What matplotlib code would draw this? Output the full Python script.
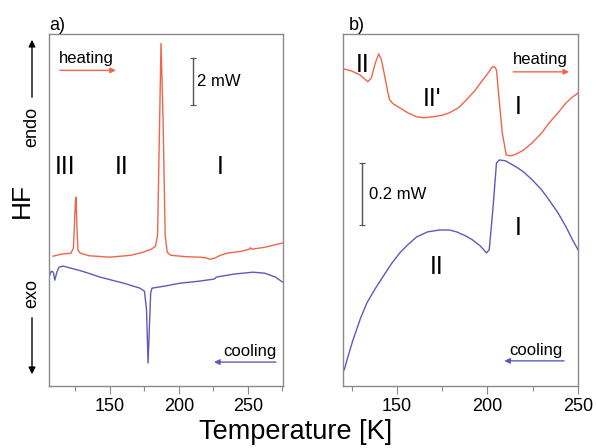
"""DSC heating/cooling traces, two temperature ranges."""

import matplotlib

matplotlib.use("Agg")
import matplotlib.pyplot as plt
from matplotlib.ticker import MultipleLocator

plt.rcParams["font.family"] = ["Liberation Sans", "DejaVu Sans"]

RED = "#f0654a"
BLUE = "#5a5cb8"
GRAY = "#8a8a8a"

# panel a) wide range, heat flow in mW (arbitrary offset)
a_heat_T = [108.7, 115, 121.7, 123.5, 125.0, 125.4, 126.0, 126.8, 128.5, 135, 150, 165,
            174, 180, 183, 184.5, 186, 187, 188.5, 190, 191.5, 194, 205, 215, 219,
            222.5, 226, 230, 235, 245, 251, 252, 253, 262, 275]
a_heat_hf = [5.53, 5.62, 5.66, 5.87, 7.91, 8.04, 6.85, 5.79, 5.66, 5.55, 5.49, 5.57,
             5.70, 5.83, 5.96, 6.43, 11.32, 14.6, 11.32, 6.43, 5.70, 5.57, 5.51, 5.49, 5.47,
             5.40, 5.45, 5.57, 5.66, 5.74, 5.83, 5.89, 5.83, 5.91, 6.09]

a_cool_T = [105.8, 107.5, 109, 110, 111.5, 113, 116, 130, 142.8, 160, 171.7, 175,
            176.5, 177.6, 178.5, 179.5, 180.5, 190, 200.7, 215, 224.6, 226, 227, 240,
            253.6, 262, 270, 275]
a_cool_hf = [4.64, 4.89, 4.85, 4.51, 4.85, 5.06, 5.11, 4.89, 4.64, 4.38, 4.17, 4.04,
             3.23, 0.98, 2.38, 3.96, 4.17, 4.26, 4.38, 4.47, 4.55, 4.57, 4.64, 4.77,
             4.85, 4.81, 4.64, 4.43]

# panel b) zoom on 120-250 K
b_heat_T = [120.3, 125, 129.7, 134, 136, 138, 140, 141.5, 143.4, 145, 146, 148, 151.6,
            156, 161, 165, 169.8, 175, 179, 184, 188.5, 193, 196.7, 200, 202.7, 204,
            205, 206.5, 208.2, 210.4, 213, 216, 220, 224.7, 230, 234, 239, 243.4, 247,
            249.5, 250]
b_heat_hf = [1.023, 1.016, 1.003, 0.981, 0.994, 1.039, 1.071, 1.052, 0.997, 0.948,
             0.923, 0.910, 0.897, 0.881, 0.868, 0.865, 0.868, 0.873, 0.881, 0.897,
             0.923, 0.952, 0.981, 1.006, 1.029, 1.029, 1.019, 0.923, 0.816, 0.745,
             0.742, 0.748, 0.761, 0.784, 0.816, 0.848, 0.881, 0.913, 0.932, 0.942, 0.945]

b_cool_T = [121, 123, 125.8, 130, 133.5, 138, 142.3, 147, 151.6, 156, 161, 167, 173.6,
            179, 183, 188, 191.8, 196, 199.5, 201, 203, 205, 206.6, 210, 216, 220,
            224.7, 230, 234, 239, 243.4, 247, 249.5, 250]
b_cool_hf = [0.052, 0.094, 0.148, 0.219, 0.268, 0.313, 0.352, 0.394, 0.429, 0.455,
             0.481, 0.497, 0.503, 0.503, 0.497, 0.484, 0.471, 0.452, 0.429, 0.439,
             0.568, 0.719, 0.729, 0.726, 0.706, 0.690, 0.665, 0.632, 0.600, 0.558,
             0.513, 0.471, 0.445, 0.439]


def style_axis(ax, xlim, ylim):
    ax.set_xlim(*xlim)
    ax.set_ylim(*ylim)
    ax.set_yticks([])
    ax.xaxis.set_major_locator(MultipleLocator(50))
    ax.xaxis.set_minor_locator(MultipleLocator(25))
    ax.tick_params(axis="x", which="major", direction="out", length=6, width=0.8,
                   color=GRAY, labelsize=13, pad=3)
    ax.tick_params(axis="x", which="minor", direction="out", length=3.5, width=0.8,
                   color=GRAY)
    for sp in ax.spines.values():
        sp.set_color(GRAY)
        sp.set_linewidth(1.0)


def arrow(ax, x0, x1, y, color):
    ax.annotate("", xy=(x1, y), xytext=(x0, y),
                arrowprops=dict(arrowstyle="-|>", color=color, lw=1.0,
                                mutation_scale=8, shrinkA=0, shrinkB=0))


def scale_bar(ax, x, y0, y1):
    ax.plot([x, x], [y0, y1], color="#555555", lw=1.0)
    for y in (y0, y1):
        ax.plot([x], [y], marker="_", color="#555555", ms=4, mew=0.8)


def main() -> None:
    fig = plt.figure(figsize=(5.96, 4.48), dpi=100)
    ax_a = fig.add_axes([0.0822, 0.1384, 0.3926, 0.7857])
    ax_b = fig.add_axes([0.5755, 0.1384, 0.3943, 0.7857])

    # a)
    ax_a.plot(a_heat_T, a_heat_hf, color=RED, lw=1.0)
    ax_a.plot(a_cool_T, a_cool_hf, color=BLUE, lw=1.0)
    style_axis(ax_a, (105.8, 275.4), (0, 15))
    ax_a.text(113, 13.96, "heating", fontsize=12, va="center", ha="left")
    arrow(ax_a, 113.8, 154.3, 13.45, RED)
    scale_bar(ax_a, 210.1, 11.96, 13.96)
    ax_a.text(213, 12.98, "2 mW", fontsize=12, va="center", ha="left")
    for label, x in (("III", 117.4), ("II", 158.7), ("I", 229.7)):
        ax_a.text(x, 9.32, label, fontsize=18, va="center", ha="center")
    ax_a.text(251.1, 1.49, "cooling", fontsize=12, va="center", ha="center")
    arrow(ax_a, 270.3, 225.4, 1.02, BLUE)

    # b)
    ax_b.plot(b_heat_T, b_heat_hf, color=RED, lw=1.0)
    ax_b.plot(b_cool_T, b_cool_hf, color=BLUE, lw=1.0)
    style_axis(ax_b, (120.3, 250), (0, 1.135))
    ax_b.text(131.3, 1.035, "II", fontsize=18, va="center", ha="center")
    ax_b.text(169.2, 0.926, "II'", fontsize=18, va="center", ha="center")
    ax_b.text(217, 0.90, "I", fontsize=18, va="center", ha="center")
    ax_b.text(217, 0.51, "I", fontsize=18, va="center", ha="center")
    ax_b.text(172, 0.384, "II", fontsize=18, va="center", ha="center")
    ax_b.text(229.1, 1.052, "heating", fontsize=12, va="center", ha="center")
    arrow(ax_b, 214.3, 245.1, 1.013, RED)
    ax_b.text(226.9, 0.116, "cooling", fontsize=12, va="center", ha="center")
    arrow(ax_b, 242.3, 209.3, 0.081, BLUE)
    scale_bar(ax_b, 130.8, 0.519, 0.719)
    ax_b.text(134.6, 0.616, "0.2 mW", fontsize=12, va="center", ha="left")

    # panel letters and shared labels
    fig.text(57 / 596, 1 - 25 / 448, "a)", fontsize=13, ha="center", va="center")
    fig.text(357 / 596, 1 - 25 / 448, "b)", fontsize=13, ha="center", va="center")
    fig.text(296 / 596, 1 - 432 / 448, "Temperature [K]", fontsize=19.5,
             ha="center", va="center")
    fig.text(22 / 596, 1 - 200 / 448, "HF", fontsize=19, rotation=90,
             ha="center", va="center")
    fig.text(32 / 596, 1 - 127 / 448, "endo", fontsize=13, rotation=90,
             ha="center", va="center")
    fig.text(32 / 596, 1 - 294 / 448, "exo", fontsize=13, rotation=90,
             ha="center", va="center")
    fig.add_artist(matplotlib.patches.FancyArrowPatch(
        (32 / 596, 1 - 100 / 448), (32 / 596, 1 - 37 / 448),
        transform=fig.transFigure, arrowstyle="-|>", mutation_scale=10,
        color="black", lw=1.0))
    fig.add_artist(matplotlib.patches.FancyArrowPatch(
        (32 / 596, 1 - 315 / 448), (32 / 596, 1 - 377 / 448),
        transform=fig.transFigure, arrowstyle="-|>", mutation_scale=10,
        color="black", lw=1.0))

    fig.savefig("out.png", dpi=100)
    plt.close(fig)


if __name__ == "__main__":
    main()
